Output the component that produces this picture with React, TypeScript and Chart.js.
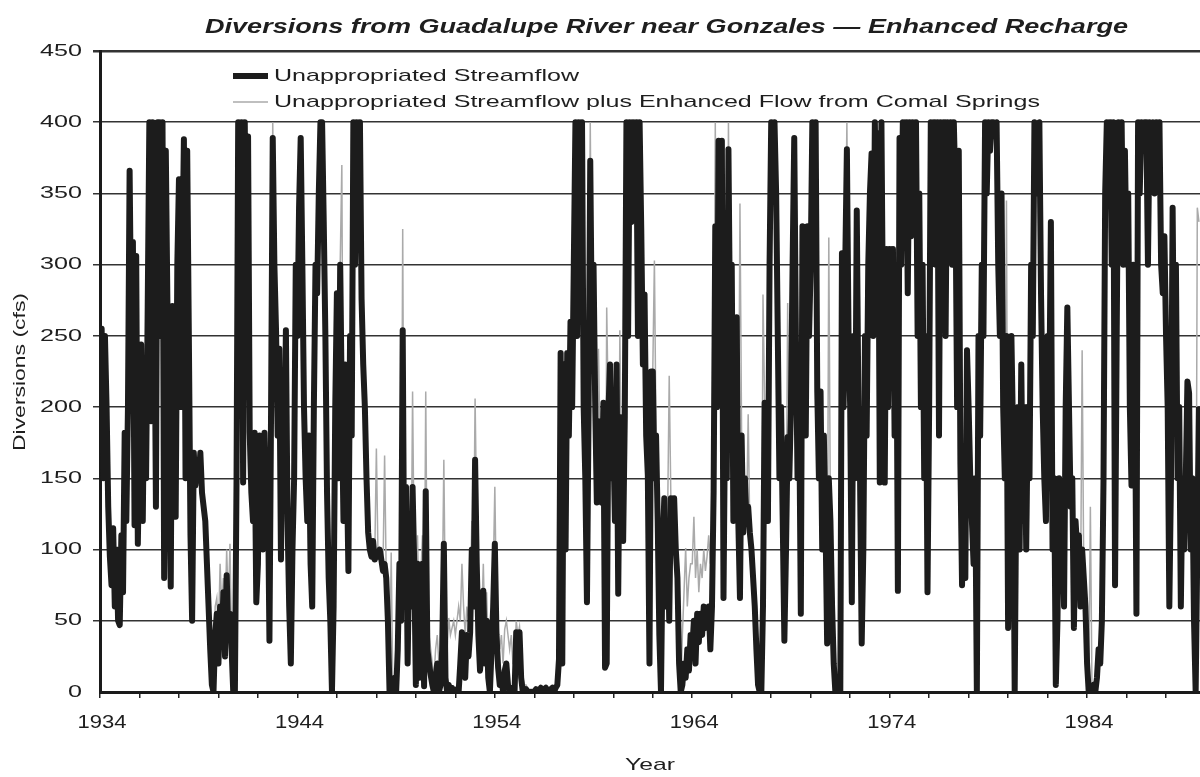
import React, { useEffect, useRef } from "react";
import { Chart, registerables } from "chart.js";

Chart.register(...registerables);

const START_YEAR = 1934;
const X_MAX = 1989.72;

// Monthly diversions (cfs), Unappropriated Streamflow, Jan 1934 onward (one row per year)
const unappropriated: number[] = [
  240, 255, 150, 250, 200, 130, 95, 75, 115, 60, 100, 50, // 1934
  47, 110, 70, 182, 120, 200, 366, 250, 316, 117, 306, 104, // 1935
  180, 244, 120, 230, 150, 270, 400, 190, 400, 300, 130, 400, // 1936
  400, 250, 400, 80, 380, 270, 160, 74, 271, 150, 123, 300, // 1937
  360, 200, 300, 388, 150, 380, 250, 110, 50, 168, 145, 160, // 1938
  150, 168, 140, 130, 120, 90, 60, 30, 5, 0, 40, 55, // 1939
  20, 60, 35, 70, 25, 82, 40, 55, 30, 0, 0, 150, // 1940
  400, 330, 400, 147, 400, 250, 390, 182, 140, 120, 182, 63, // 1941
  90, 180, 160, 100, 182, 120, 150, 36, 200, 389, 300, 254, // 1942
  180, 241, 93, 200, 150, 254, 120, 60, 20, 100, 150, 300, // 1943
  250, 340, 389, 300, 200, 150, 120, 180, 90, 60, 200, 300, // 1944
  280, 350, 400, 400, 330, 250, 140, 80, 50, 0, 60, 200, // 1945
  280, 150, 300, 200, 120, 230, 160, 85, 250, 180, 400, 300, // 1946
  400, 350, 400, 276, 230, 200, 150, 112, 100, 95, 106, 93, // 1947
  98, 95, 100, 93, 85, 90, 80, 50, 0, 5, 0, 10, // 1948
  0, 30, 90, 50, 254, 60, 144, 20, 100, 60, 144, 90, // 1949
  5, 90, 10, 60, 90, 4, 141, 30, 20, 12, 5, 0, // 1950
  10, 20, 0, 5, 30, 104, 10, 0, 5, 0, 3, 0, // 1951
  0, 2, 0, 20, 42, 30, 10, 40, 25, 42, 100, 60, // 1952
  163, 90, 40, 15, 30, 71, 20, 50, 10, 0, 30, 60, // 1953
  104, 40, 17, 5, 10, 0, 15, 20, 5, 0, 3, 0, // 1954
  0, 42, 30, 42, 10, 0, 0, 2, 0, 0, 0, 0, // 1955
  0, 2, 0, 1, 3, 0, 2, 3, 1, 0, 2, 3, // 1956
  0, 3, 5, 23, 238, 20, 230, 100, 238, 180, 260, 200, // 1957
  300, 400, 250, 400, 330, 400, 200, 150, 63, 200, 373, 250, // 1958
  300, 203, 133, 190, 170, 133, 203, 17, 20, 195, 230, 150, // 1959
  180, 120, 230, 69, 193, 140, 106, 193, 400, 250, 400, 330, // 1960
  400, 380, 400, 250, 400, 325, 230, 279, 180, 152, 20, 225, // 1961
  225, 150, 180, 120, 40, 0, 100, 136, 60, 120, 50, 136, // 1962
  120, 136, 100, 80, 20, 0, 5, 20, 10, 30, 15, 40, // 1963
  30, 50, 20, 55, 35, 55, 40, 60, 45, 55, 60, 30, // 1964
  60, 141, 327, 200, 387, 300, 387, 66, 200, 150, 381, 250, // 1965
  300, 120, 200, 263, 120, 66, 180, 112, 150, 120, 130, 112, // 1966
  100, 80, 60, 30, 5, 0, 0, 60, 203, 150, 120, 300, // 1967
  400, 380, 400, 350, 250, 150, 200, 120, 36, 100, 179, 150, // 1968
  200, 300, 389, 250, 150, 200, 55, 327, 271, 180, 327, 250, // 1969
  300, 400, 380, 400, 211, 150, 211, 100, 180, 120, 34, 150, // 1970
  120, 60, 20, 0, 0, 5, 0, 308, 200, 300, 381, 250, // 1971
  200, 63, 250, 150, 338, 200, 150, 34, 100, 250, 180, 300, // 1972
  350, 378, 250, 400, 300, 392, 147, 400, 250, 147, 311, 200, // 1973
  311, 250, 311, 180, 300, 71, 389, 300, 400, 350, 400, 280, // 1974
  400, 320, 400, 380, 400, 250, 350, 200, 300, 150, 250, 70, // 1975
  200, 400, 380, 400, 300, 400, 180, 400, 380, 400, 250, 400, // 1976
  380, 400, 300, 400, 350, 200, 380, 160, 75, 150, 80, 240, // 1977
  200, 150, 120, 90, 150, 0, 250, 180, 300, 250, 400, 350, // 1978
  400, 380, 400, 400, 390, 400, 300, 250, 350, 200, 150, 250, // 1979
  45, 150, 250, 180, 0, 150, 200, 100, 230, 120, 200, 100, // 1980
  200, 150, 300, 250, 400, 350, 390, 400, 280, 200, 150, 120, // 1981
  250, 200, 330, 100, 150, 5, 50, 150, 100, 120, 60, 200, // 1982
  270, 200, 130, 150, 45, 120, 100, 110, 60, 100, 80, 60, // 1983
  20, 0, 0, 0, 5, 0, 10, 30, 20, 50, 150, 350, // 1984
  400, 380, 400, 300, 400, 75, 250, 400, 380, 400, 300, 380, // 1985
  300, 350, 200, 145, 300, 250, 55, 400, 350, 400, 380, 400, // 1986
  400, 300, 400, 390, 400, 350, 400, 380, 400, 300, 280, 320, // 1987
  250, 200, 60, 150, 340, 200, 300, 150, 200, 60, 150, 100, // 1988
  150, 218, 210, 100, 150, 50, 0, 100, 200, // 1989
];

// Monthly diversions (cfs), Unappropriated Streamflow plus Enhanced Flow from Comal Springs
const withEnhanced: number[] = [
  240, 255, 150, 250, 200, 130, 95, 75, 115, 60, 100, 50, // 1934
  47, 110, 70, 182, 120, 200, 366, 250, 316, 117, 306, 104, // 1935
  180, 244, 120, 230, 150, 270, 400, 190, 400, 300, 130, 400, // 1936
  400, 250, 400, 80, 380, 270, 160, 74, 271, 150, 123, 300, // 1937
  360, 200, 300, 388, 150, 380, 250, 110, 50, 168, 145, 160, // 1938
  150, 168, 140, 130, 120, 90, 60, 30, 5, 0, 60, 66, // 1939
  40, 90, 60, 80, 50, 100, 60, 104, 30, 0, 0, 150, // 1940
  400, 330, 400, 147, 400, 250, 390, 182, 140, 120, 182, 63, // 1941
  90, 180, 160, 100, 182, 120, 150, 36, 200, 400, 300, 254, // 1942
  180, 241, 93, 200, 150, 254, 120, 60, 20, 100, 150, 300, // 1943
  250, 340, 389, 300, 200, 150, 120, 180, 90, 60, 200, 300, // 1944
  280, 350, 400, 400, 330, 250, 140, 80, 50, 0, 60, 200, // 1945
  280, 150, 300, 370, 120, 230, 160, 85, 250, 180, 400, 300, // 1946
  400, 350, 400, 276, 230, 200, 150, 112, 100, 95, 106, 93, // 1947
  171, 95, 100, 93, 85, 166, 80, 50, 0, 98, 0, 10, // 1948
  0, 30, 90, 50, 325, 60, 144, 20, 100, 60, 211, 90, // 1949
  40, 110, 50, 80, 110, 20, 211, 50, 40, 30, 20, 10, // 1950
  30, 40, 20, 30, 60, 163, 50, 30, 52, 40, 45, 50, // 1951
  40, 50, 60, 50, 90, 60, 40, 60, 50, 60, 120, 80, // 1952
  206, 120, 60, 30, 50, 90, 40, 70, 30, 20, 50, 80, // 1953
  144, 60, 44, 30, 40, 20, 44, 50, 40, 30, 40, 20, // 1954
  20, 50, 40, 46, 30, 10, 5, 5, 2, 2, 2, 2, // 1955
  0, 2, 0, 1, 3, 0, 2, 3, 1, 0, 2, 3, // 1956
  0, 3, 5, 23, 238, 20, 230, 100, 238, 180, 260, 200, // 1957
  300, 400, 250, 400, 330, 400, 200, 150, 63, 200, 400, 250, // 1958
  300, 203, 133, 241, 170, 133, 203, 17, 270, 195, 230, 150, // 1959
  180, 120, 230, 69, 254, 140, 106, 193, 400, 250, 400, 330, // 1960
  400, 380, 400, 250, 400, 325, 230, 279, 180, 152, 20, 225, // 1961
  225, 303, 180, 120, 40, 0, 100, 136, 60, 120, 222, 136, // 1962
  120, 136, 100, 80, 20, 0, 40, 70, 101, 60, 80, 90, // 1963
  90, 123, 80, 100, 70, 90, 80, 100, 85, 95, 110, 90, // 1964
  100, 160, 400, 200, 387, 300, 387, 66, 200, 150, 400, 250, // 1965
  300, 120, 200, 263, 120, 343, 180, 112, 150, 120, 195, 112, // 1966
  100, 80, 60, 30, 5, 0, 0, 279, 203, 150, 120, 300, // 1967
  400, 380, 400, 350, 250, 150, 200, 120, 36, 100, 273, 150, // 1968
  200, 300, 389, 250, 150, 200, 55, 327, 271, 180, 327, 250, // 1969
  300, 400, 380, 400, 211, 150, 211, 100, 180, 120, 34, 319, // 1970
  120, 60, 20, 0, 0, 5, 0, 308, 200, 300, 400, 250, // 1971
  200, 63, 250, 150, 338, 200, 150, 34, 100, 250, 180, 300, // 1972
  350, 378, 250, 400, 300, 392, 147, 400, 250, 147, 311, 200, // 1973
  311, 250, 311, 180, 300, 71, 389, 300, 400, 350, 400, 280, // 1974
  400, 320, 400, 380, 400, 250, 350, 200, 300, 150, 250, 70, // 1975
  200, 400, 380, 400, 300, 400, 180, 400, 380, 400, 250, 400, // 1976
  380, 400, 300, 400, 350, 200, 380, 160, 75, 150, 80, 240, // 1977
  200, 150, 120, 90, 150, 0, 250, 180, 300, 250, 400, 350, // 1978
  400, 380, 400, 400, 390, 400, 300, 250, 350, 200, 150, 345, // 1979
  45, 150, 250, 180, 0, 150, 200, 100, 230, 120, 200, 100, // 1980
  200, 150, 300, 250, 400, 350, 390, 400, 280, 200, 150, 120, // 1981
  250, 200, 330, 100, 150, 5, 50, 150, 100, 120, 60, 200, // 1982
  270, 200, 130, 150, 45, 120, 100, 110, 60, 240, 80, 60, // 1983
  20, 0, 130, 0, 5, 0, 10, 30, 20, 50, 150, 350, // 1984
  400, 380, 400, 300, 400, 75, 250, 400, 380, 400, 300, 380, // 1985
  300, 350, 200, 145, 300, 250, 55, 400, 350, 400, 380, 400, // 1986
  400, 300, 400, 390, 400, 350, 400, 380, 400, 300, 280, 320, // 1987
  250, 200, 60, 150, 340, 200, 300, 150, 200, 60, 150, 100, // 1988
  150, 218, 210, 100, 150, 50, 0, 340, 330, // 1989
];

const yTickValues = [0, 50, 100, 150, 200, 250, 300, 350, 400, 450];
const xTickYears = [
  1934, 1936, 1938, 1940, 1942, 1944, 1946, 1948, 1950, 1952, 1954, 1956, 1958, 1960,
  1962, 1964, 1966, 1968, 1970, 1972, 1974, 1976, 1978, 1980, 1982, 1984, 1986, 1988,
];
const xLabelYears = [1934, 1944, 1954, 1964, 1974, 1984];

const TITLE = "Diversions from Guadalupe River near Gonzales \u2014 Enhanced Recharge";
const SERIES_LABELS = [
  "Unappropriated Streamflow",
  "Unappropriated Streamflow plus Enhanced Flow from Comal Springs",
];
const Y_TITLE = "Diversions (cfs)";
const X_TITLE = "Year";

const FONT = '"Liberation Sans", Arial, Helvetica, sans-serif';
const TEXT_COLOR = "#1e1e1e";

function toPoints(values: number[]) {
  return values.map((v, i) => ({ x: START_YEAR + i / 12, y: v }));
}

// draws text scaled by sx along its writing direction
function drawScaled(
  ctx: CanvasRenderingContext2D,
  text: string,
  x: number,
  y: number,
  sx: number,
  align: CanvasTextAlign,
  rotate = 0
) {
  ctx.save();
  ctx.translate(x, y);
  if (rotate) ctx.rotate(rotate);
  ctx.scale(sx, 1);
  ctx.textAlign = align;
  ctx.textBaseline = "middle";
  ctx.fillText(text, 0, 0);
  ctx.restore();
}

const textPlugin = {
  id: "textDecor",
  afterDraw(chart: any) {
    const ctx: CanvasRenderingContext2D = chart.ctx;
    const xs = chart.scales.x;
    const ys = chart.scales.y;
    ctx.save();
    ctx.fillStyle = TEXT_COLOR;

    // Title
    ctx.font = `italic bold 21px ${FONT}`;
    const tw = ctx.measureText(TITLE).width;
    drawScaled(ctx, TITLE, 205, 27, 923 / tw, "left");

    // Legend
    ctx.lineCap = "butt";
    ctx.strokeStyle = "#1c1c1c";
    ctx.lineWidth = 6;
    ctx.beginPath();
    ctx.moveTo(233, 76);
    ctx.lineTo(268, 76);
    ctx.stroke();
    ctx.strokeStyle = "#aaaaaa";
    ctx.lineWidth = 1.5;
    ctx.beginPath();
    ctx.moveTo(233, 102);
    ctx.lineTo(268, 102);
    ctx.stroke();
    ctx.font = `17px ${FONT}`;
    const lw = ctx.measureText(SERIES_LABELS[1]).width;
    const lsx = 766 / lw;
    drawScaled(ctx, SERIES_LABELS[0], 274, 76, lsx, "left");
    drawScaled(ctx, SERIES_LABELS[1], 274, 102, lsx, "left");

    // Y tick labels
    ctx.font = `17px ${FONT}`;
    const ysx = 42 / ctx.measureText("450").width;
    yTickValues.forEach((v) => {
      drawScaled(ctx, String(v), 82, ys.getPixelForValue(v), ysx, "right");
    });

    // X tick labels
    ctx.font = `18px ${FONT}`;
    const xsx = 49 / ctx.measureText("1934").width;
    xLabelYears.forEach((yr) => {
      drawScaled(ctx, String(yr), xs.getPixelForValue(yr) + 2, 723, xsx, "center");
    });

    // Axis titles
    ctx.font = `17px ${FONT}`;
    const ytw = ctx.measureText(Y_TITLE).width;
    drawScaled(ctx, Y_TITLE, 20, 372, 158 / ytw, "center", -Math.PI / 2);

    ctx.font = `17px ${FONT}`;
    const yw = ctx.measureText(X_TITLE).width;
    drawScaled(ctx, X_TITLE, 650, 765, 50 / yw, "center");
    ctx.restore();
  },
};

export default function App() {
  const canvasRef = useRef<HTMLCanvasElement | null>(null);

  useEffect(() => {
    const canvas = canvasRef.current;
    if (!canvas) return;
    const chart = new Chart(canvas, {
      type: "line",
      data: {
        datasets: [
          {
            label: SERIES_LABELS[0],
            data: toPoints(unappropriated),
            borderColor: "#1c1c1c",
            borderWidth: 6,
            borderJoinStyle: "round",
            pointRadius: 0,
            tension: 0,
          },
          {
            label: SERIES_LABELS[1],
            data: toPoints(withEnhanced),
            borderColor: "#aaaaaa",
            borderWidth: 1.5,
            pointRadius: 0,
            tension: 0,
          },
        ],
      },
      options: {
        responsive: false,
        animation: false,
        devicePixelRatio: 1,
        layout: { padding: { top: 51, right: 0, bottom: 0, left: 0 } },
        plugins: {
          legend: { display: false },
          title: { display: false },
          tooltip: { enabled: false },
        },
        scales: {
          x: {
            type: "linear",
            min: START_YEAR,
            max: X_MAX,
            afterBuildTicks: (scale: any) => {
              scale.ticks = xTickYears.map((v) => ({ value: v }));
            },
            afterFit: (scale: any) => {
              scale.height = 85;
            },
            ticks: { display: false },
            grid: {
              drawOnChartArea: false,
              drawTicks: true,
              tickLength: 6,
              color: "#222",
              lineWidth: 1.5,
            },
            border: { display: true, color: "#1a1a1a", width: 3 },
          },
          y: {
            min: 0,
            max: 450,
            afterBuildTicks: (scale: any) => {
              scale.ticks = yTickValues.map((v) => ({ value: v }));
            },
            afterFit: (scale: any) => {
              scale.width = 100;
            },
            ticks: { display: false },
            grid: {
              color: "#333",
              lineWidth: (c: any) =>
                c.tick && c.tick.value === 450 ? 2.5 : c.tick && c.tick.value === 0 ? 0 : 1.5,
              tickLength: 7,
            },
            border: { display: true, color: "#1a1a1a", width: 3 },
          },
        },
      },
      plugins: [textPlugin],
    });
    return () => chart.destroy();
  }, []);

  return (
    <div style={{ position: "absolute", left: 0, top: 0, width: 1200, height: 777, background: "#fff" }}>
      <canvas ref={canvasRef} width={1200} height={777} style={{ display: "block" }} />
    </div>
  );
}
